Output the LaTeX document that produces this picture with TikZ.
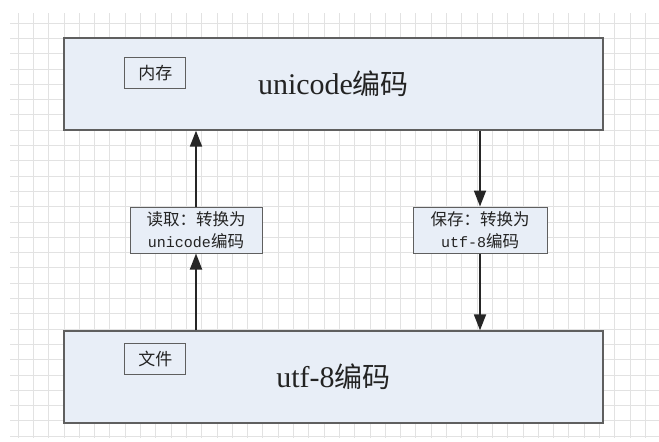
\documentclass[tikz,border=0pt]{standalone}
\usepackage{fontspec}
\setmainfont{Liberation Serif}
\setmonofont{Liberation Mono}
\newfontfamily\cjk{Noto Sans CJK SC}
\usetikzlibrary{arrows.meta}

\definecolor{boxfill}{RGB}{232,238,247}
\definecolor{boxline}{RGB}{95,95,95}
\definecolor{gridgray}{RGB}{226,226,226}
\definecolor{ink}{RGB}{35,35,35}

\newcommand{\bigzh}[1]{{\fontsize{28}{32}\selectfont\cjk #1}}
\newcommand{\monotxt}[1]{{\ttfamily\fontsize{15}{22}\selectfont #1}}

\begin{document}
\begin{tikzpicture}[x=1pt, y=-1pt,
    big/.style = {draw=boxline, line width=1.3pt, fill=boxfill, text=ink,
                  minimum width=539pt, minimum height=92pt, inner sep=0pt,
                  font=\fontsize{30}{34}\selectfont},
    tag/.style = {draw=boxline, line width=1pt, fill=boxfill, text=ink,
                  minimum width=61pt, minimum height=31pt, inner sep=0pt,
                  font=\fontsize{17}{18}\selectfont\cjk},
    conv/.style = {draw=boxline, line width=1pt, fill=boxfill, text=ink,
                   minimum height=46pt, inner sep=0pt, align=center,
                   font=\fontsize{16.5}{22}\selectfont\cjk},
    flow/.style = {draw=black!85, line width=1.8pt, -{Triangle[length=16pt, width=12pt]}}]

    \useasboundingbox (0,0) rectangle (659,442);
    \fill[white] (0,0) rectangle (659,442);

    % grid paper
    \foreach \i in {0,...,41}
        \draw[gridgray, line width=0.8pt] (18+15.3*\i, 13) -- (18+15.3*\i, 438);
    \foreach \j in {0,...,27}
        \draw[gridgray, line width=0.8pt] (10, 23+15.3*\j) -- (659, 23+15.3*\j);

    % memory and file
    \node[big] (mem) at (333.5, 84) {unicode\bigzh{编码}};
    \node[big] (file) at (333.5, 377) {utf-8\bigzh{编码}};
    \node[tag, anchor=north west] (memtag) at ([xshift=61pt, yshift=-20pt]mem.north west) {内存};
    \node[tag, anchor=north west] (filetag) at ([xshift=61pt, yshift=-13pt]file.north west) {文件};

    % conversions
    \node[conv, minimum width=132pt] (read) at (196, 230) {读取：转换为\\\monotxt{unicode}编码};
    \node[conv, minimum width=134pt] (save) at (480, 230) {保存：转换为\\\monotxt{utf-8}编码};

    \draw[flow] (file.north -| read) -- (read.south);
    \draw[flow] (read.north) -- (mem.south -| read);
    \draw[flow] (mem.south -| save) -- (save.north);
    \draw[flow] (save.south) -- (file.north -| save);

\end{tikzpicture}
\end{document}
